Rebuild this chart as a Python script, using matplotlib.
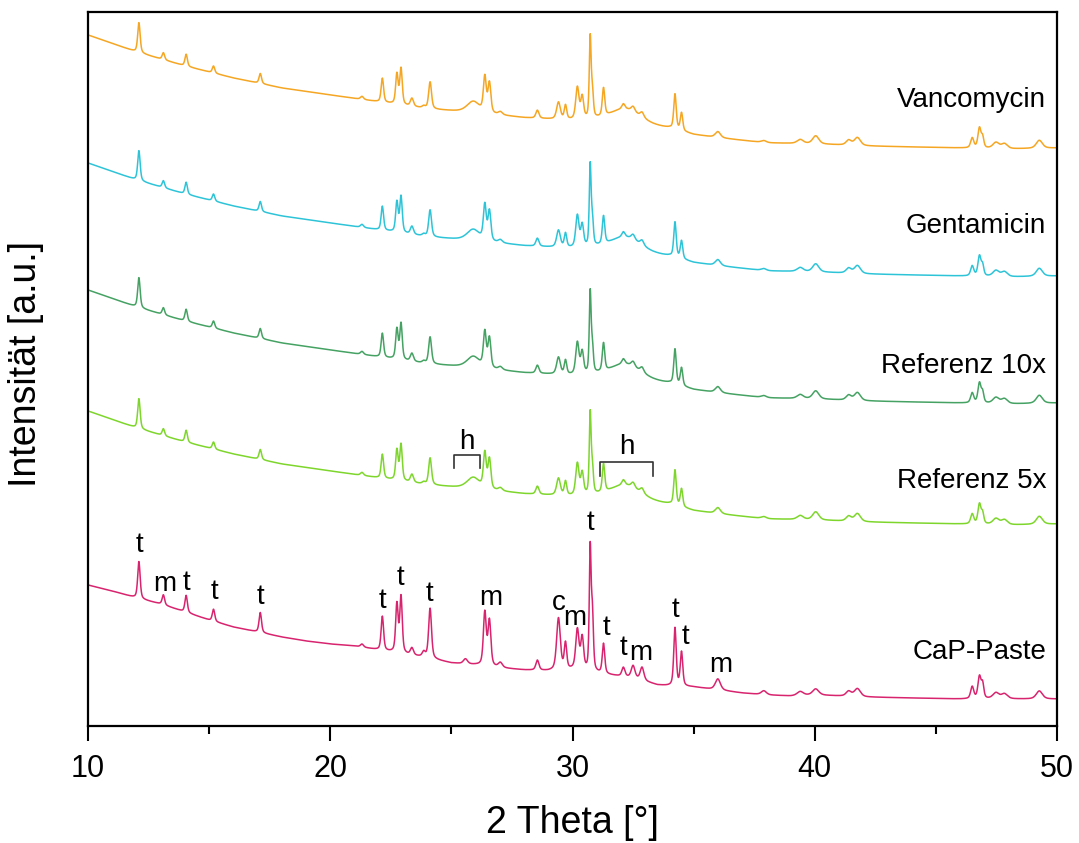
import numpy as np
import matplotlib
matplotlib.use("Agg")
import matplotlib.pyplot as plt

plt.rcParams['font.family'] = ['Liberation Sans', 'DejaVu Sans']

# ---- data (intensity in arbitrary units) ----
series_names = ["Vancomycin", "Gentamicin", "Referenz 10x", "Referenz 5x", "CaP-Paste"]
series_colors = ["#F5A623", "#2EC4D8", "#45A263", "#7ED62C", "#D8246E"]
series_offsets = [0, -128, -255, -376, 0]   # vertical shift of upper curves relative to Vancomycin

# baseline of the upper (antibiotic / reference) curves
upper_base_x = [10, 12, 14, 16, 18, 20, 22, 24, 26, 28, 30, 31, 33.3, 34, 35, 36, 38, 40, 42, 44, 46, 48, 50]
upper_base_y = [691, 674, 660, 648, 638, 631, 624, 617, 613, 608, 605, 604, 598, 597, 591, 588, 583, 582, 580, 579, 578, 577, 578]

# baseline of the CaP-Paste curve
cap_base_x = [10, 11, 12, 13, 14, 15, 16, 17, 18, 19, 20, 21, 22, 23, 24, 25, 26, 27, 28, 29, 30, 31.5, 32.5, 33.5, 34, 35, 36, 37, 38, 39, 40, 42, 44, 46, 48, 50]
cap_base_y = [141, 135, 128, 122, 114, 106, 99, 94, 89, 85, 82, 80, 76, 72, 68, 63, 61, 58, 56, 55, 56, 51, 48, 41, 40, 39, 36, 33, 31, 30, 31, 29, 28, 27, 27, 27]

# diffraction peaks: position [deg], FWHM [deg], height upper curves, height CaP-Paste
peak_pos = [12.10, 13.11, 14.05, 15.18, 17.11, 21.31, 22.15, 22.75, 22.92, 23.37, 23.86, 24.12,
            25.58, 25.90, 26.38, 26.57, 27.02, 28.55, 29.42, 29.71, 30.20, 30.40, 30.73, 30.82,
            31.28, 32.10, 32.20, 32.50, 32.87, 34.23, 34.50, 36.00, 37.90, 39.40, 40.04, 41.40,
            41.76, 46.50, 46.80, 46.93, 47.48, 47.83, 49.27]
peak_fwhm = [0.12, 0.12, 0.12, 0.12, 0.12, 0.15, 0.12, 0.12, 0.12, 0.15, 0.15, 0.14,
             0.20, 0.60, 0.14, 0.14, 0.20, 0.15, 0.18, 0.12, 0.16, 0.14, 0.09, 0.10,
             0.12, 0.15, 1.60, 0.18, 0.18, 0.12, 0.12, 0.25, 0.25, 0.30, 0.30, 0.25,
             0.30, 0.15, 0.15, 0.12, 0.30, 0.30, 0.30]
peak_h_upper = [30, 7, 12, 7, 10, 3, 24, 30, 36, 8, 2, 27,
                0, 11, 35, 30, 3, 8, 17, 14, 32, 22, 80, 25,
                28, 5, 16, 5, 5, 35, 18, 6, 2, 4, 8, 5,
                8, 10, 20, 10, 6, 5, 8]
peak_h_cap = [37, 10, 17, 12, 20, 3, 34, 48, 56, 7, 5, 50,
              5, 0, 53, 45, 5, 10, 52, 26, 40, 32, 120, 55,
              30, 9, 0, 12, 13, 58, 34, 11, 4, 4, 6, 5,
              8, 12, 22, 14, 6, 5, 8]

# phase labels above CaP-Paste peaks
label_text = ["t", "m", "t", "t", "t", "t", "t", "t", "m", "c", "m", "t", "t", "t", "m", "t", "t", "m"]
label_x = [12.12, 13.18, 14.05, 15.22, 17.11, 22.16, 22.89, 24.11, 26.61, 29.44, 30.10, 30.72,
           31.39, 32.12, 32.81, 34.26, 34.67, 36.12]
label_y = [181, 142, 143, 134, 129, 125, 148, 132, 128, 123, 108, 203, 98, 78, 73, 116, 89, 61]

# bracket regions marked "h" on Referenz 5x
h_ranges = [(25.1, 26.2), (31.12, 33.33)]
h_bar_y = [271, 264]
h_tick_y = [258, 250]
h_text_y = [284, 279]

label_pos_y = [626, 500, 360, 245, 74]

# ---- build curves ----
x = np.linspace(10, 50, 4001)


def profile(xx, pos, fwhm, height):
    out = np.zeros_like(xx)
    for p, w, h in zip(pos, fwhm, height):
        if h == 0:
            continue
        g = np.exp(-4 * np.log(2) * ((xx - p) / w) ** 2)
        lo = 1.0 / (1 + 4 * ((xx - p) / w) ** 2)
        out += h * (0.5 * g + 0.5 * lo)
    return out

upper = np.interp(x, upper_base_x, upper_base_y) + profile(x, peak_pos, peak_fwhm, peak_h_upper)
cap = np.interp(x, cap_base_x, cap_base_y) + profile(x, peak_pos, peak_fwhm, peak_h_cap)

fig = plt.figure(figsize=(10.79, 8.43), dpi=100)
ax = fig.add_axes([0.0816, 0.1388, 0.8980, 0.8470])

for i, (name, col, off) in enumerate(zip(series_names, series_colors, series_offsets)):
    y = cap if name == "CaP-Paste" else upper + off
    ax.plot(x, y, color=col, lw=1.1)
    ax.text(49.55, label_pos_y[i], name, ha="right", va="center", fontsize=20, color="black")

for t, lx, ly in zip(label_text, label_x, label_y):
    ax.text(lx, ly, t, ha="center", va="center", fontsize=20)

for (a, b), yb, yt, ytx in zip(h_ranges, h_bar_y, h_tick_y, h_text_y):
    ax.plot([a, a, b, b], [yt, yb, yb, yt], color="#333333", lw=1.2)
    ax.text((a + b) / 2, ytx, "h", ha="center", va="center", fontsize=20)

ax.set_xlim(10, 50)
ax.set_ylim(0, 714)
ax.set_xticks([10, 20, 30, 40, 50])
ax.set_xticks([15, 25, 35, 45], minor=True)
ax.set_yticks([])
ax.tick_params(axis="x", which="major", direction="out", length=11, width=1.5, labelsize=22, pad=9)
ax.tick_params(axis="x", which="minor", direction="out", length=5.5, width=1.5)
for s in ax.spines.values():
    s.set_linewidth(1.6)
ax.set_xlabel("2 Theta [°]", fontsize=27)
ax.xaxis.set_label_coords(0.5, -0.11)
ax.set_ylabel("Intensität [a.u.]", fontsize=27)
ax.yaxis.set_label_coords(-0.045, 0.507)

fig.savefig("out.png", dpi=100)
